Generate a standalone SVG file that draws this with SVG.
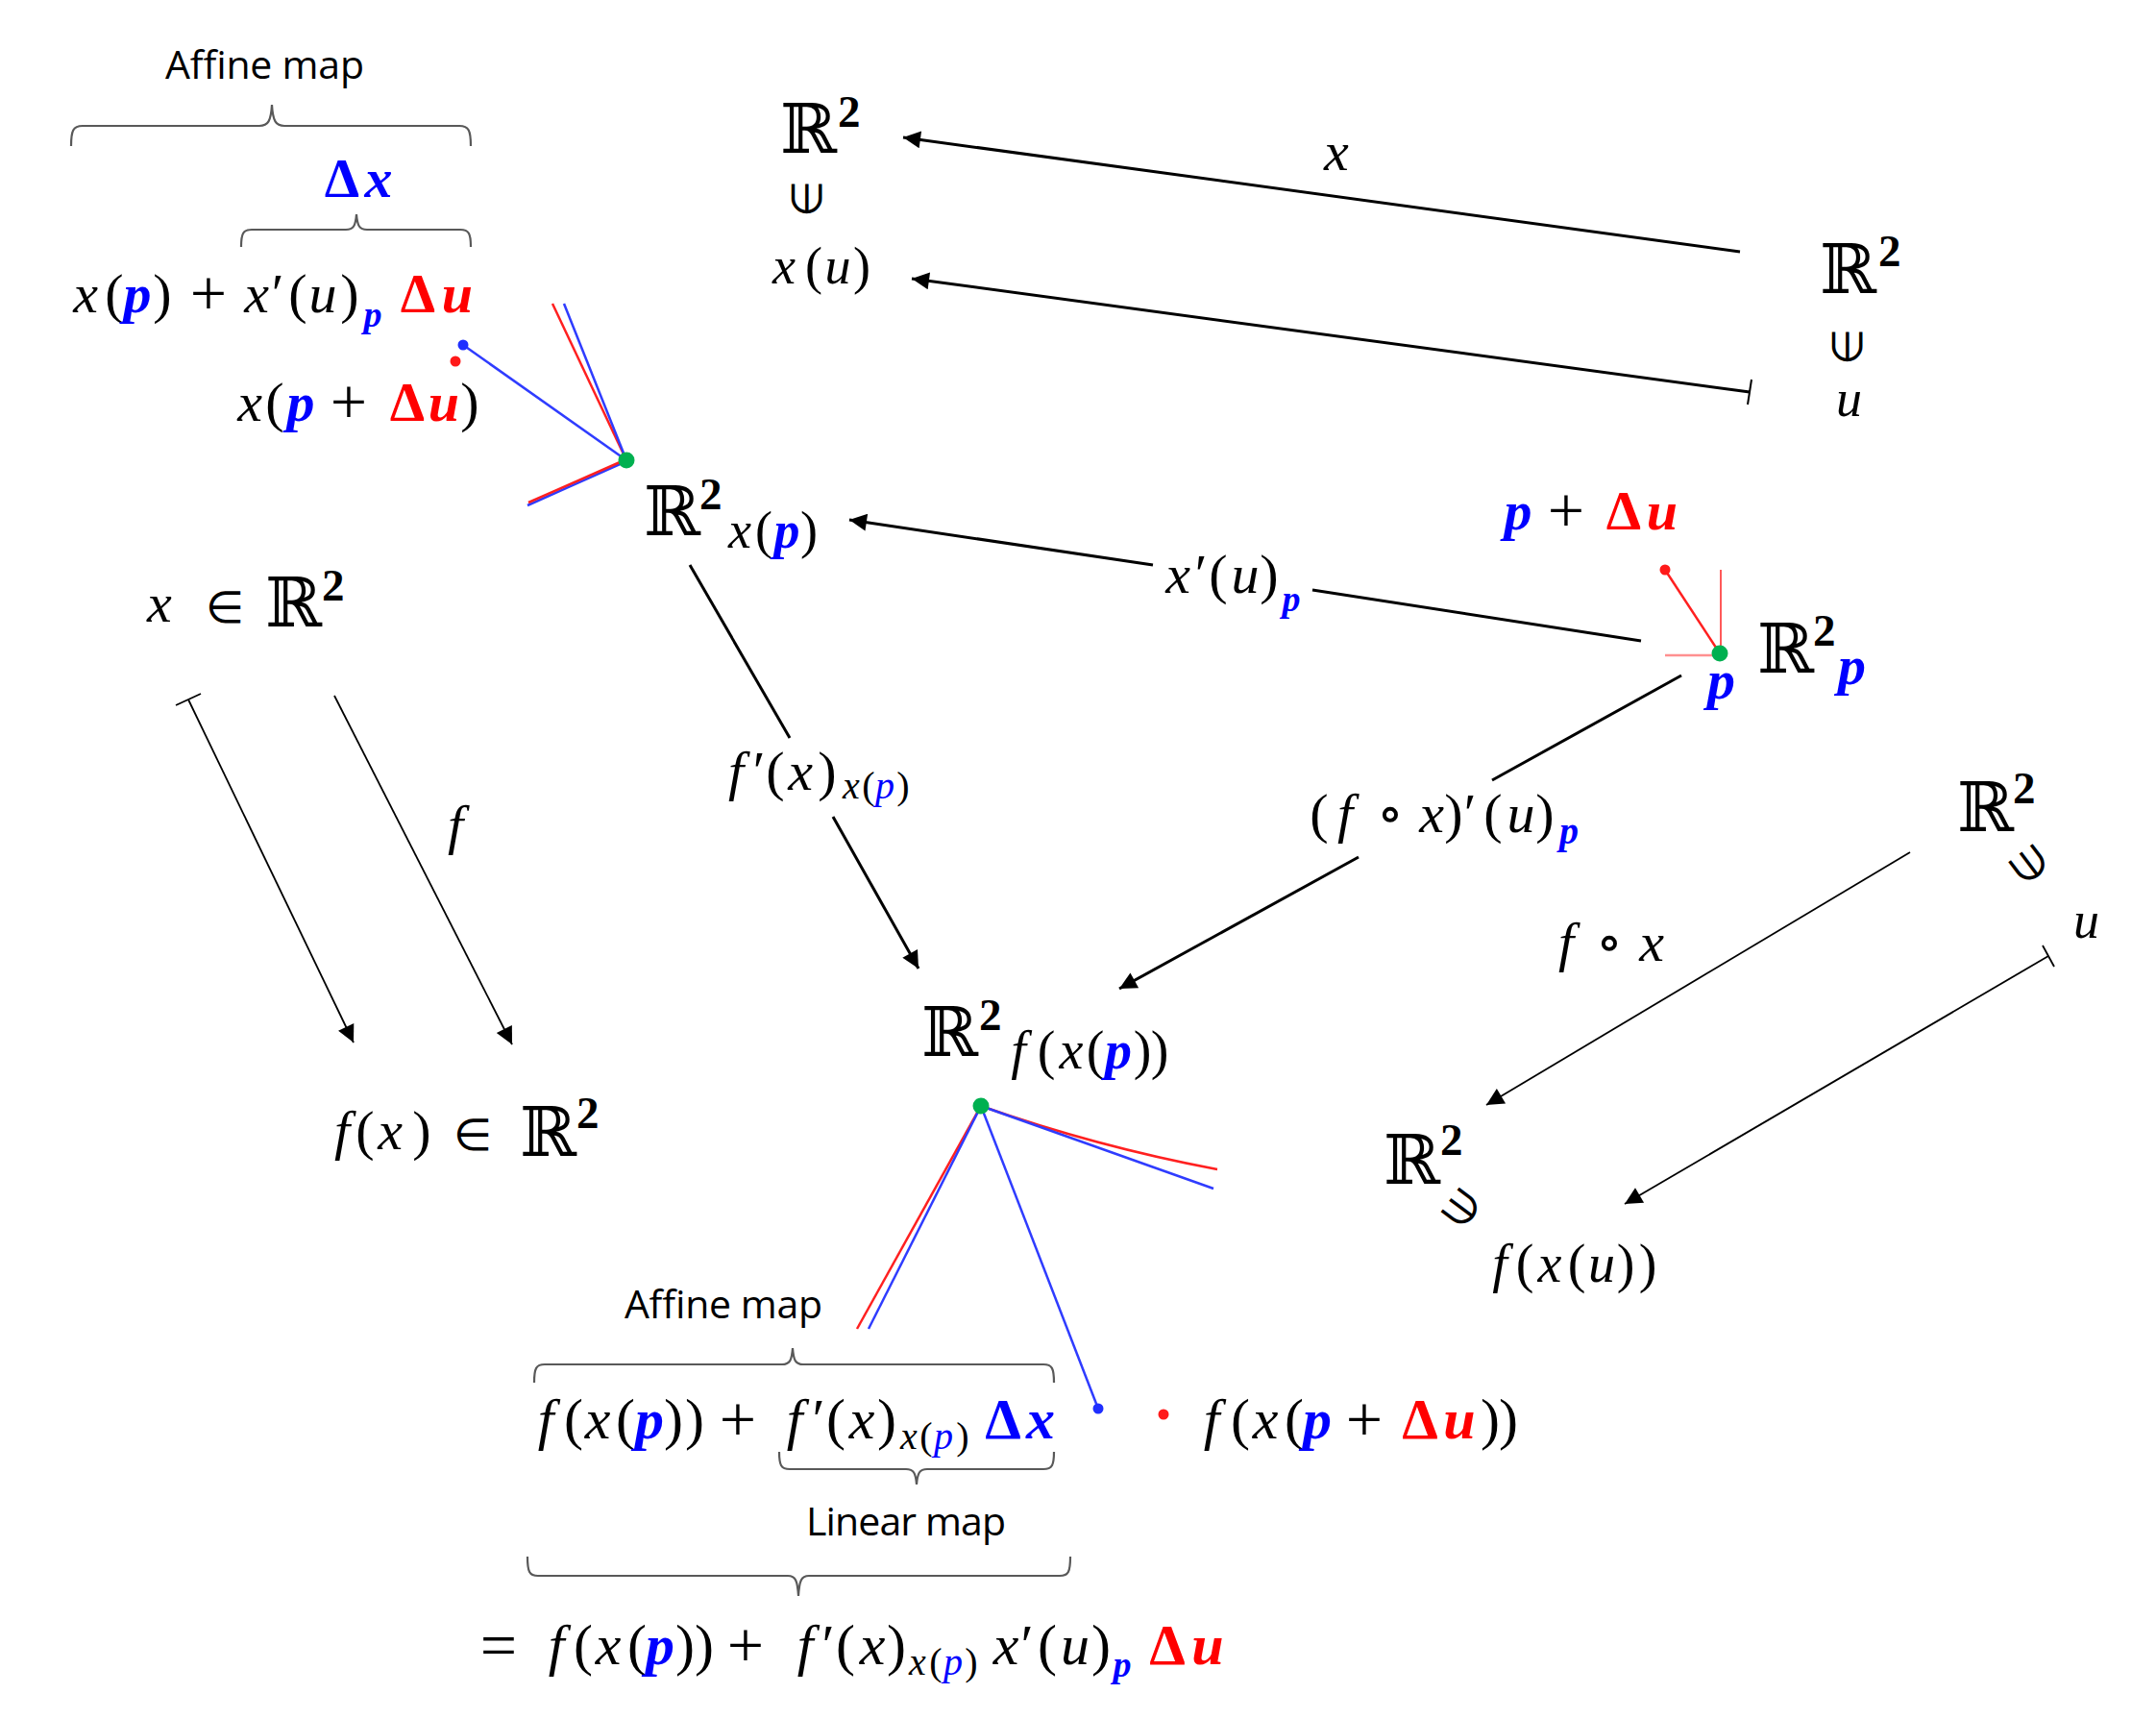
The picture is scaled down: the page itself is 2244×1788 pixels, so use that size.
<svg xmlns="http://www.w3.org/2000/svg" width="2244" height="1788" viewBox="0 0 2244 1788">
<style>
.m{font-family:"Liberation Serif","DejaVu Serif",serif;font-size:58px;fill:#000}
.c{text-anchor:middle}
.i{font-style:italic}
.b{fill:#0000ff}
.r{fill:#ff0000}
.bd{font-weight:bold}
.s{font-size:40px}
.op{font-size:68px}
.R{font-family:"DejaVu Serif","DejaVu Sans",serif;font-size:71px;fill:#000}
.two{font-family:"Liberation Serif","DejaVu Serif",serif;font-size:47px;font-weight:bold;fill:#000}
.el{font-family:"DejaVu Sans",sans-serif;font-weight:200;font-size:44px;fill:#000}
.lbl{font-family:"Open Sans","Liberation Sans",sans-serif;font-size:41px;fill:#000}
.brace{fill:none;stroke:#595959;stroke-width:2.2}
.thick{stroke:#000;stroke-width:3;fill:none}
.thin{stroke:#000;stroke-width:1.8;fill:none}
.bl{stroke:#2f3cff;stroke-width:2.5;fill:none}
.rl{stroke:#ff2020;stroke-width:2.5;fill:none}
.gdot{fill:#00b050}
.bdot{fill:#1f2fff}
.rdot{fill:#ff1a1a}
</style>
<defs>
<marker id="ah" viewBox="0 0 10 10" refX="10" refY="5" markerWidth="24" markerHeight="18" markerUnits="userSpaceOnUse" orient="auto"><path d="M0,0 L10,5 L0,10 z" fill="#000"/></marker>
</defs>
<rect width="2244" height="1788" fill="#fff"/>

<g id="connectors">
<line class="thick" x1="1811" y1="262" x2="940" y2="143" marker-end="url(#ah)"/>
<line class="thick" x1="1821" y1="408" x2="949" y2="290" marker-end="url(#ah)"/>
<line x1="1819" y1="421" x2="1823" y2="395" stroke="#000" stroke-width="2"/>
<line class="thick" x1="1708" y1="667" x2="1366" y2="614"/>
<line class="thick" x1="1200" y1="588" x2="884" y2="541" marker-end="url(#ah)"/>
<line class="thick" x1="718" y1="588" x2="822" y2="768"/>
<line class="thick" x1="867" y1="850" x2="956" y2="1008" marker-end="url(#ah)"/>
<line class="thick" x1="1750" y1="703" x2="1553" y2="812"/>
<line class="thick" x1="1414" y1="892" x2="1165" y2="1029" marker-end="url(#ah)"/>
<line class="thin" x1="196" y1="728" x2="368" y2="1085" marker-end="url(#ah)"/>
<line x1="183" y1="734" x2="209" y2="722" stroke="#000" stroke-width="1.8"/>
<line class="thin" x1="348" y1="724" x2="533" y2="1087" marker-end="url(#ah)"/>
<line class="thin" x1="1988" y1="887" x2="1547" y2="1150" marker-end="url(#ah)"/>
<line class="thin" x1="2132" y1="995" x2="1691" y2="1253" marker-end="url(#ah)"/>
<line x1="2126" y1="984" x2="2138" y2="1006" stroke="#000" stroke-width="1.8"/>
</g>

<g id="brace-affine-top">
<path class="brace" d="M74,152 C74,136 76,131 86,131 L270,131 C279,131 282,126 283,109 C284,126 287,131 296,131 L478,131 C488,131 490,136 490,152"/>
<text class="lbl" x="172" y="82" textLength="207">Affine map</text>
</g>
<g id="brace-dx-top">
<path class="brace" d="M251,257 C251,243 253,239 262,239 L360,239 C368,239 370,235 371,223 C372,235 374,239 382,239 L479,239 C488,239 490,243 490,257"/>
<text class="m c" y="205"><tspan class="b bd" x="356">Δ</tspan><tspan class="i b bd" x="394">x</tspan></text>
</g>

<g id="formula-affine-x">
<text class="m c" y="325"><tspan class="i" x="89">x</tspan><tspan x="119">(</tspan><tspan class="i b bd" x="143">p</tspan><tspan x="169">)</tspan><tspan class="op" x="217" y="328">+</tspan><tspan class="i" x="267" y="325">x</tspan><tspan x="289">′</tspan><tspan x="310">(</tspan><tspan class="i" x="336">u</tspan><tspan x="364">)</tspan><tspan class="i b bd" x="388" y="340" style="font-size:38px">p</tspan><tspan class="r bd" x="435" y="325">Δ</tspan><tspan class="i r bd" x="476">u</tspan></text>
</g>
<g id="formula-x-p-du">
<text class="m c" y="438"><tspan class="i" x="260">x</tspan><tspan x="286">(</tspan><tspan class="i b bd" x="313">p</tspan><tspan class="op" x="363" y="441">+</tspan><tspan class="r bd" x="424" y="438">Δ</tspan><tspan class="i r bd" x="462">u</tspan><tspan x="489">)</tspan></text>
</g>

<g id="tangent-xp">
<line class="bl" x1="482" y1="359" x2="652" y2="479"/>
<line class="rl" x1="575" y1="316" x2="652" y2="479"/>
<line class="bl" x1="587" y1="316" x2="650" y2="474"/>
<line class="bl" x1="652" y1="480" x2="549" y2="526"/>
<line class="rl" x1="652" y1="478" x2="550" y2="523"/>
<circle class="bdot" cx="482" cy="359" r="5.5"/>
<circle class="rdot" cx="474" cy="376" r="5.5"/>
<circle class="gdot" cx="652" cy="479" r="8.5"/>
</g>

<g id="node-R2-xu">
<text class="R" x="812" y="159">ℝ</text>
<text class="two" x="872" y="132">2</text>
<text class="el" transform="translate(840,207) rotate(-90)" text-anchor="middle" y="15">∈</text>
<text class="m c" y="295" style="font-size:54px"><tspan class="i" x="816">x</tspan><tspan x="847">(</tspan><tspan class="i" x="872">u</tspan><tspan x="897">)</tspan></text>
</g>
<text class="m i" x="1378" y="177">x</text>

<g id="node-R2-u">
<text class="R" x="1894" y="305">ℝ</text>
<text class="two" x="1955" y="277">2</text>
<text class="el" transform="translate(1923,361) rotate(-90)" text-anchor="middle" y="15">∈</text>
<text class="m i" x="1911" y="433" style="font-size:54px">u</text>
</g>

<g id="node-R2-xp">
<text class="R" x="670" y="557">ℝ</text>
<text class="two" x="728" y="530">2</text>
<text class="m c" y="570" style="font-size:54px"><tspan class="i" x="770">x</tspan><tspan x="795">(</tspan><tspan class="i b bd" x="819">p</tspan><tspan x="842">)</tspan></text>
</g>

<text class="m c" y="617"><tspan class="i" x="1226">x</tspan><tspan x="1250">′</tspan><tspan x="1268">(</tspan><tspan class="i" x="1296">u</tspan><tspan x="1321">)</tspan><tspan class="i b bd" x="1344" y="636" style="font-size:38px">p</tspan></text>

<g id="node-R2-p">
<text class="m c" y="551"><tspan class="i b bd" x="1580">p</tspan><tspan class="op" x="1630" y="554">+</tspan><tspan class="r bd" x="1690" y="551">Δ</tspan><tspan class="i r bd" x="1730">u</tspan></text>
<line class="rl" x1="1733" y1="593" x2="1790" y2="680"/>
<line x1="1791" y1="593" x2="1791" y2="680" stroke="#ff3030" stroke-width="1.6"/>
<line x1="1733" y1="682" x2="1790" y2="682" stroke="#ff9090" stroke-width="2.5"/>
<circle class="rdot" cx="1733" cy="593" r="5.5"/>
<circle class="gdot" cx="1790" cy="680" r="8.5"/>
<text class="m i b bd" x="1777" y="727">p</text>
<text class="R" x="1829" y="700">ℝ</text>
<text class="two" x="1887" y="672">2</text>
<text class="m i b bd" x="1913" y="712">p</text>
</g>

<g id="node-x-in-R2">
<text class="m i" x="153" y="647">x</text>
<text class="el" x="214" y="648" style="font-size:46px">∈</text>
<text class="R" x="276" y="652">ℝ</text>
<text class="two" x="335" y="625">2</text>
</g>
<text class="m i" x="466" y="878">f</text>
<g id="node-fx-in-R2">
<text class="m c" y="1196"><tspan class="i" x="356">f</tspan><tspan x="380">(</tspan><tspan class="i" x="406">x</tspan><tspan x="439">)</tspan></text>
<text class="el" x="472" y="1197" style="font-size:46px">∈</text>
<text class="R" x="541" y="1203">ℝ</text>
<text class="two" x="600" y="1174">2</text>
</g>

<text class="m c" y="822"><tspan class="i" x="766">f</tspan><tspan x="790">′</tspan><tspan x="807">(</tspan><tspan class="i" x="833">x</tspan><tspan x="861">)</tspan><tspan class="i s" x="886" y="831">x</tspan><tspan class="s" x="904">(</tspan><tspan class="i b s" x="921">p</tspan><tspan class="s" x="940">)</tspan></text>

<text class="m c" y="866"><tspan x="1373">(</tspan><tspan class="i" x="1400">f</tspan><tspan x="1447">∘</tspan><tspan class="i" x="1490">x</tspan><tspan x="1513">)</tspan><tspan x="1530">′</tspan><tspan x="1554">(</tspan><tspan class="i" x="1583">u</tspan><tspan x="1608">)</tspan><tspan class="i b bd" x="1633" y="878" style="font-size:40px">p</tspan></text>

<g id="node-R2-fxp">
<text class="R" x="959" y="1099">ℝ</text>
<text class="two" x="1019" y="1072">2</text>
<text class="m c" y="1112" style="font-size:56px"><tspan class="i" x="1060">f</tspan><tspan x="1089">(</tspan><tspan class="i" x="1115">x</tspan><tspan x="1140">(</tspan><tspan class="i b bd" x="1164">p</tspan><tspan x="1189">)</tspan><tspan x="1207">)</tspan></text>
</g>

<g id="tangent-fxp">
<path class="rl" d="M1021,1151 Q1140,1193 1267,1217"/>
<line class="bl" x1="1021" y1="1151" x2="1263" y2="1237"/>
<line class="rl" x1="1021" y1="1151" x2="892" y2="1383"/>
<line class="bl" x1="1021" y1="1151" x2="904" y2="1383"/>
<line class="bl" x1="1021" y1="1151" x2="1143" y2="1466"/>
<circle class="bdot" cx="1143" cy="1466" r="5.5"/>
<circle class="rdot" cx="1211" cy="1472" r="5.5"/>
<circle class="gdot" cx="1021" cy="1151" r="8.5"/>
</g>

<g id="node-R2-u-right">
<text class="R" x="2037" y="865">ℝ</text>
<text class="two" x="2095" y="836">2</text>
<text class="el" transform="translate(2113,900) rotate(-127)" text-anchor="middle" y="15">∈</text>
<text class="m i" x="2158" y="976" style="font-size:54px">u</text>
</g>
<text class="m c" y="1000"><tspan class="i" x="1630">f</tspan><tspan x="1675">∘</tspan><tspan class="i" x="1719">x</tspan></text>
<g id="node-R2-fxu">
<text class="R" x="1440" y="1232">ℝ</text>
<text class="two" x="1499" y="1202">2</text>
<text class="el" transform="translate(1522,1258) rotate(-143)" text-anchor="middle" y="15">∈</text>
<text class="m c" y="1334" style="font-size:56px"><tspan class="i" x="1561">f</tspan><tspan x="1587">(</tspan><tspan class="i" x="1613">x</tspan><tspan x="1641">(</tspan><tspan class="i" x="1667">u</tspan><tspan x="1692">)</tspan><tspan x="1715">)</tspan></text>
</g>

<g id="brace-affine-bottom">
<text class="lbl" x="650" y="1372" textLength="206">Affine map</text>
<path class="brace" d="M556,1439 C556,1424 558,1420 567,1420 L814,1420 C822,1420 824,1416 825,1403 C826,1416 828,1420 836,1420 L1086,1420 C1095,1420 1097,1424 1097,1439"/>
</g>
<g id="formula-affine-f">
<text class="m c" y="1497" style="font-size:60px"><tspan class="i" x="568">f</tspan><tspan x="597">(</tspan><tspan class="i" x="622">x</tspan><tspan x="651">(</tspan><tspan class="i b bd" x="676">p</tspan><tspan x="701">)</tspan><tspan x="723">)</tspan><tspan class="op" x="768" y="1500">+</tspan><tspan class="i" x="827" y="1497">f</tspan><tspan x="852">′</tspan><tspan x="870">(</tspan><tspan class="i" x="897">x</tspan><tspan x="923">)</tspan><tspan class="i s" x="946" y="1508">x</tspan><tspan class="s" x="964">(</tspan><tspan class="i b s" x="982">p</tspan><tspan class="s" x="1002">)</tspan><tspan class="b bd" x="1044" y="1497">Δ</tspan><tspan class="i b bd" x="1083">x</tspan></text>
</g>
<g id="formula-f-x-p-du">
<text class="m c" y="1497" style="font-size:60px"><tspan class="i" x="1261">f</tspan><tspan x="1291">(</tspan><tspan class="i" x="1317">x</tspan><tspan x="1347">(</tspan><tspan class="i b bd" x="1371">p</tspan><tspan class="op" x="1420" y="1500">+</tspan><tspan class="r bd" x="1478" y="1497">Δ</tspan><tspan class="i r bd" x="1519">u</tspan><tspan x="1551">)</tspan><tspan x="1570">)</tspan></text>
</g>
<g id="brace-linear">
<path class="brace" d="M811,1511 C811,1525 813,1529 822,1529 L943,1529 C951,1529 953,1533 954,1545 C955,1533 957,1529 965,1529 L1086,1529 C1095,1529 1097,1525 1097,1511"/>
<text class="lbl" x="839" y="1598" textLength="208">Linear map</text>
</g>
<g id="brace-total">
<path class="brace" d="M549,1620 C549,1636 551,1640 560,1640 L820,1640 C828,1640 830,1645 831,1661 C832,1645 834,1640 842,1640 L1103,1640 C1112,1640 1114,1636 1114,1620"/>
</g>
<g id="formula-chain">
<text class="m c" y="1732" style="font-size:60px"><tspan class="op" x="519" y="1735">=</tspan><tspan class="i" x="579" y="1732">f</tspan><tspan x="607">(</tspan><tspan class="i" x="633">x</tspan><tspan x="663">(</tspan><tspan class="i b bd" x="687">p</tspan><tspan x="713">)</tspan><tspan x="733">)</tspan><tspan class="op" x="776" y="1735">+</tspan><tspan class="i" x="838" y="1732">f</tspan><tspan x="862">′</tspan><tspan x="880">(</tspan><tspan class="i" x="908">x</tspan><tspan x="933">)</tspan><tspan class="i s" x="955" y="1743">x</tspan><tspan class="s" x="974">(</tspan><tspan class="i b s" x="992">p</tspan><tspan class="s" x="1011">)</tspan><tspan class="i" x="1047" y="1732">x</tspan><tspan x="1069">′</tspan><tspan x="1090">(</tspan><tspan class="i" x="1119">u</tspan><tspan x="1146">)</tspan><tspan class="i b bd" x="1168" y="1745" style="font-size:38px">p</tspan><tspan class="r bd" x="1215" y="1732">Δ</tspan><tspan class="i r bd" x="1257">u</tspan></text>
</g>
</svg>
